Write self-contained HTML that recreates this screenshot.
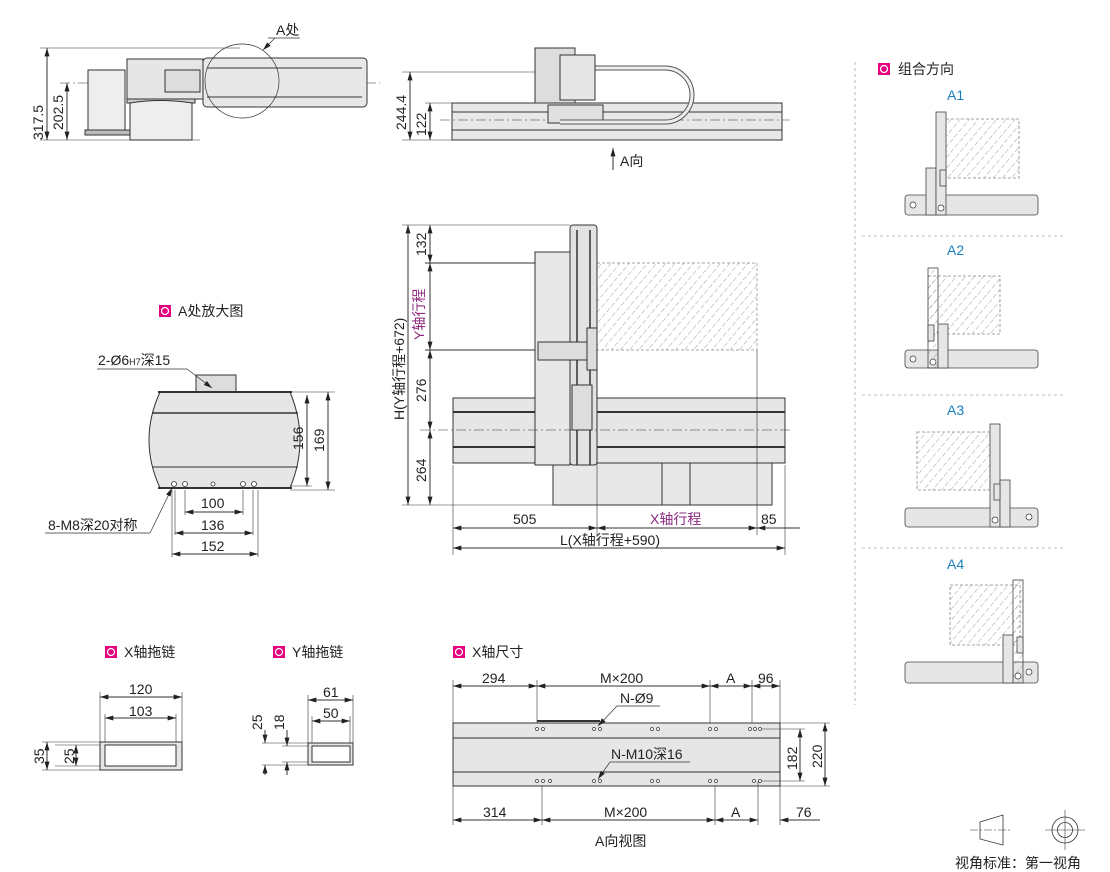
<!DOCTYPE html>
<html><head><meta charset="utf-8"><style>
html,body{margin:0;padding:0;background:#fff;}
svg{display:block;font-family:"Liberation Sans","Noto Sans CJK SC",sans-serif;}
</style></head><body>
<svg width="1110" height="872" viewBox="0 0 1110 872" xmlns="http://www.w3.org/2000/svg">
<defs>
<marker id="a" viewBox="0 0 10 6" refX="10" refY="3" markerWidth="9" markerHeight="5" orient="auto-start-reverse" markerUnits="userSpaceOnUse"><path d="M0,0L10,3L0,6z" fill="#222"/></marker>
<pattern id="h" width="7" height="7" patternUnits="userSpaceOnUse" patternTransform="rotate(40)"><line x1="0" y1="0" x2="0" y2="7" stroke="#888" stroke-width="0.8" stroke-dasharray="3,2"/></pattern>
</defs>
<g stroke="#333" stroke-width="1" fill="none">

<!-- TOP LEFT VIEW -->
<line x1="40" y1="48" x2="240" y2="48" stroke-width="0.6"/>
<line x1="40" y1="140" x2="200" y2="140" stroke-width="0.6"/>
<line x1="60" y1="83" x2="380" y2="83" stroke-dasharray="10,3,2,3" stroke-width="0.6"/>
<line x1="47" y1="48" x2="47" y2="140" marker-start="url(#a)" marker-end="url(#a)"/>
<line x1="67" y1="83" x2="67" y2="140" marker-start="url(#a)" marker-end="url(#a)"/>
<rect x="88" y="70" width="37" height="63" fill="#eee"/>
<rect x="85" y="130" width="45" height="5" fill="#bbb"/>
<rect x="127" y="59" width="76" height="40" fill="#e6e6e6"/>
<rect x="127" y="99" width="68" height="4" fill="#ccc"/>
<path d="M130 103 L130 140 L192 140 L192 103 Q160 98 130 103z" fill="#eee"/>
<rect x="165" y="70" width="35" height="22" fill="#ddd"/>
<rect x="203" y="58" width="164" height="49" rx="4" fill="#e8e8e8"/>
<line x1="207" y1="68" x2="362" y2="68"/><line x1="207" y1="97" x2="362" y2="97"/>
<circle cx="242" cy="81" r="37" stroke-width="0.7"/>
<line x1="268" y1="38" x2="300" y2="38" stroke-width="0.7"/>
<line x1="275" y1="38" x2="263" y2="50" marker-end="url(#a)" stroke-width="0.7"/>

<!-- TOP MIDDLE VIEW -->
<line x1="402" y1="72" x2="540" y2="72" stroke-width="0.6"/>
<line x1="402" y1="140" x2="452" y2="140" stroke-width="0.6"/>
<line x1="425" y1="103" x2="452" y2="103" stroke-width="0.6"/>
<line x1="410" y1="72" x2="410" y2="140" marker-start="url(#a)" marker-end="url(#a)"/>
<line x1="430" y1="103" x2="430" y2="140" marker-start="url(#a)" marker-end="url(#a)"/>
<rect x="452" y="103" width="330" height="37" fill="#e8e8e8"/>
<line x1="452" y1="112" x2="782" y2="112"/><line x1="452" y1="130" x2="782" y2="130"/>
<line x1="440" y1="120" x2="790" y2="120" stroke-dasharray="10,3,2,3" stroke-width="0.6"/>
<rect x="548" y="105" width="55" height="18" fill="#e0e0e0"/>
<path d="M592 68 L665 68 A27 27 0 0 1 665 122 L560 122" stroke-width="5" stroke="#555"/>
<path d="M592 68 L665 68 A27 27 0 0 1 665 122 L560 122" stroke-width="3" stroke="#eee"/>
<rect x="535" y="48" width="40" height="55" fill="#ddd"/>
<rect x="560" y="55" width="35" height="45" fill="#e6e6e6"/>
<line x1="613" y1="170" x2="613" y2="148" marker-end="url(#a)"/>

<!-- MAIN VIEW -->
<line x1="402" y1="225" x2="570" y2="225" stroke-width="0.6"/>
<line x1="425" y1="263" x2="597" y2="263"/>
<line x1="425" y1="350" x2="540" y2="350"/>
<line x1="402" y1="505" x2="553" y2="505" stroke-width="0.6"/>
<line x1="408" y1="225" x2="408" y2="505" marker-start="url(#a)" marker-end="url(#a)"/>
<line x1="430" y1="225" x2="430" y2="263" marker-start="url(#a)" marker-end="url(#a)"/>
<line x1="430" y1="263" x2="430" y2="350" marker-start="url(#a)" marker-end="url(#a)"/>
<line x1="430" y1="350" x2="430" y2="430" marker-start="url(#a)" marker-end="url(#a)"/>
<line x1="430" y1="430" x2="430" y2="505" marker-start="url(#a)" marker-end="url(#a)"/>
<rect x="597" y="263" width="160" height="87" fill="url(#h)" stroke="#888" stroke-dasharray="3,2" stroke-width="0.7"/>
<rect x="553" y="463" width="219" height="42" fill="#e8e8e8"/>
<line x1="662" y1="463" x2="662" y2="505"/><line x1="690" y1="463" x2="690" y2="505"/>
<rect x="453" y="398" width="332" height="65" fill="#e6e6e6"/>
<line x1="453" y1="412" x2="785" y2="412" stroke-width="2"/><line x1="453" y1="447" x2="785" y2="447" stroke-width="2"/>
<rect x="535" y="252" width="35" height="213" fill="#e8e8e8"/>
<rect x="570" y="225" width="27" height="240" rx="3" fill="#e2e2e2"/>
<line x1="577" y1="230" x2="577" y2="465" stroke-width="1.5"/><line x1="590" y1="230" x2="590" y2="465" stroke-width="1.5"/>
<rect x="538" y="342" width="55" height="18" fill="#ddd"/>
<rect x="587" y="328" width="10" height="42" fill="#ddd"/>
<rect x="572" y="385" width="20" height="45" fill="#ddd"/>
<line x1="420" y1="430" x2="790" y2="430" stroke-dasharray="10,3,2,3" stroke-width="0.6"/>
<line x1="453" y1="465" x2="453" y2="555" stroke-width="0.6"/>
<line x1="597" y1="350" x2="597" y2="535" stroke-width="0.6"/>
<line x1="757" y1="350" x2="757" y2="535" stroke-width="0.6"/>
<line x1="785" y1="465" x2="785" y2="555" stroke-width="0.6"/>
<line x1="453" y1="528" x2="597" y2="528" marker-start="url(#a)" marker-end="url(#a)"/>
<line x1="597" y1="528" x2="757" y2="528" marker-start="url(#a)" marker-end="url(#a)"/>
<line x1="757" y1="528" x2="800" y2="528" marker-start="url(#a)"/>
<line x1="453" y1="548" x2="785" y2="548" marker-start="url(#a)" marker-end="url(#a)"/>

<!-- A DETAIL -->
<path d="M160 392 L290 392 Q310 440 290 488 L160 488 Q138 440 160 392z" fill="#e6e6e6"/>
<line x1="152" y1="413" x2="298" y2="413" stroke-width="1.6"/>
<line x1="152" y1="467" x2="298" y2="467"/>
<rect x="196" y="375" width="40" height="17" fill="#ddd"/>
<line x1="158" y1="392" x2="292" y2="392" stroke-width="2"/>
<line x1="158" y1="488" x2="292" y2="488" stroke-width="2"/>
<g fill="#fff" stroke-width="0.8"><circle cx="174" cy="484" r="2.5"/><circle cx="185" cy="484" r="2.5"/><circle cx="213" cy="484" r="2"/><circle cx="243" cy="484" r="2.5"/><circle cx="254" cy="484" r="2.5"/></g>
<line x1="290" y1="392" x2="335" y2="392" stroke-width="0.6"/>
<line x1="290" y1="486" x2="312" y2="486" stroke-width="0.6"/>
<line x1="290" y1="490" x2="335" y2="490" stroke-width="0.6"/>
<line x1="307" y1="395" x2="307" y2="486" marker-start="url(#a)" marker-end="url(#a)"/>
<line x1="328" y1="392" x2="328" y2="490" marker-start="url(#a)" marker-end="url(#a)"/>
<line x1="172" y1="490" x2="172" y2="557" stroke-width="0.6"/>
<line x1="175" y1="490" x2="175" y2="535" stroke-width="0.6"/>
<line x1="185" y1="490" x2="185" y2="515" stroke-width="0.6"/>
<line x1="243" y1="490" x2="243" y2="515" stroke-width="0.6"/>
<line x1="253" y1="490" x2="253" y2="535" stroke-width="0.6"/>
<line x1="258" y1="490" x2="258" y2="557" stroke-width="0.6"/>
<line x1="185" y1="512" x2="243" y2="512" marker-start="url(#a)" marker-end="url(#a)"/>
<line x1="175" y1="533" x2="253" y2="533" marker-start="url(#a)" marker-end="url(#a)"/>
<line x1="172" y1="554" x2="258" y2="554" marker-start="url(#a)" marker-end="url(#a)"/>
<line x1="97" y1="369" x2="187" y2="369" stroke-width="0.7"/>
<line x1="187" y1="369" x2="212" y2="388" stroke-width="0.7" marker-end="url(#a)"/>
<line x1="45" y1="533" x2="150" y2="533" stroke-width="0.7"/>
<line x1="150" y1="533" x2="172" y2="488" stroke-width="0.7" marker-end="url(#a)"/>

<!-- X DRAG CHAIN -->
<rect x="100" y="742" width="82" height="28" fill="#e6e6e6"/>
<rect x="105" y="745" width="71" height="21" fill="#fff"/>
<line x1="100" y1="692" x2="100" y2="742" stroke-width="0.6"/><line x1="182" y1="692" x2="182" y2="742" stroke-width="0.6"/>
<line x1="105" y1="714" x2="105" y2="742" stroke-width="0.6"/><line x1="176" y1="714" x2="176" y2="742" stroke-width="0.6"/>
<line x1="100" y1="697" x2="182" y2="697" marker-start="url(#a)" marker-end="url(#a)"/>
<line x1="105" y1="718" x2="176" y2="718" marker-start="url(#a)" marker-end="url(#a)"/>
<line x1="42" y1="742" x2="100" y2="742" stroke-width="0.6"/><line x1="42" y1="770" x2="100" y2="770" stroke-width="0.6"/>
<line x1="55" y1="745" x2="100" y2="745" stroke-width="0.6"/><line x1="55" y1="766" x2="100" y2="766" stroke-width="0.6"/>
<line x1="47" y1="742" x2="47" y2="770" marker-start="url(#a)" marker-end="url(#a)"/>
<line x1="76" y1="745" x2="76" y2="766" marker-start="url(#a)" marker-end="url(#a)"/>

<!-- Y DRAG CHAIN -->
<rect x="308" y="743" width="45" height="22" fill="#e6e6e6"/>
<rect x="312" y="746" width="38" height="16" fill="#fff"/>
<line x1="308" y1="695" x2="308" y2="743" stroke-width="0.6"/><line x1="353" y1="695" x2="353" y2="743" stroke-width="0.6"/>
<line x1="312" y1="716" x2="312" y2="743" stroke-width="0.6"/><line x1="350" y1="716" x2="350" y2="743" stroke-width="0.6"/>
<line x1="308" y1="700" x2="353" y2="700" marker-start="url(#a)" marker-end="url(#a)"/>
<line x1="312" y1="721" x2="350" y2="721" marker-start="url(#a)" marker-end="url(#a)"/>
<line x1="262" y1="743" x2="308" y2="743" stroke-width="0.6"/><line x1="262" y1="765" x2="308" y2="765" stroke-width="0.6"/>
<line x1="282" y1="746" x2="308" y2="746" stroke-width="0.6"/><line x1="282" y1="762" x2="308" y2="762" stroke-width="0.6"/>
<line x1="265" y1="730" x2="265" y2="743" marker-end="url(#a)"/><line x1="265" y1="775" x2="265" y2="765" marker-end="url(#a)"/>
<line x1="287" y1="730" x2="287" y2="746" marker-end="url(#a)"/><line x1="287" y1="775" x2="287" y2="762" marker-end="url(#a)"/>

<!-- X AXIS SIZES -->
<rect x="453" y="723" width="327" height="63" fill="#e6e6e6"/>
<line x1="453" y1="738" x2="780" y2="738"/><line x1="453" y1="772" x2="780" y2="772"/>
<line x1="537" y1="721" x2="600" y2="721" stroke-width="2"/>
<g fill="#fff" stroke-width="0.7">
<circle cx="537" cy="729" r="1.5"/><circle cx="543" cy="729" r="1.5"/><circle cx="594" cy="729" r="1.5"/><circle cx="600" cy="729" r="1.5"/><circle cx="652" cy="729" r="1.5"/><circle cx="658" cy="729" r="1.5"/><circle cx="710" cy="729" r="1.5"/><circle cx="716" cy="729" r="1.5"/><circle cx="750" cy="729" r="1.5"/><circle cx="755" cy="729" r="1.5"/><circle cx="760" cy="729" r="1.5"/>
<circle cx="537" cy="781" r="1.5"/><circle cx="543" cy="781" r="1.5"/><circle cx="550" cy="781" r="1.5"/><circle cx="594" cy="781" r="1.5"/><circle cx="600" cy="781" r="1.5"/><circle cx="652" cy="781" r="1.5"/><circle cx="658" cy="781" r="1.5"/><circle cx="710" cy="781" r="1.5"/><circle cx="716" cy="781" r="1.5"/><circle cx="754" cy="781" r="1.5"/><circle cx="760" cy="781" r="1.5"/></g>
<g stroke-width="0.6">
<line x1="453" y1="680" x2="453" y2="723"/><line x1="537" y1="680" x2="537" y2="723"/><line x1="710" y1="680" x2="710" y2="723"/><line x1="752" y1="680" x2="752" y2="723"/><line x1="780" y1="680" x2="780" y2="723"/>
<line x1="453" y1="786" x2="453" y2="825"/><line x1="542" y1="786" x2="542" y2="825"/><line x1="715" y1="786" x2="715" y2="825"/><line x1="758" y1="781" x2="758" y2="825"/><line x1="780" y1="786" x2="780" y2="825"/>
<line x1="762" y1="729" x2="805" y2="729"/><line x1="762" y1="781" x2="805" y2="781"/><line x1="780" y1="723" x2="830" y2="723"/><line x1="780" y1="786" x2="830" y2="786"/>
</g>
<line x1="453" y1="686" x2="537" y2="686" marker-start="url(#a)" marker-end="url(#a)"/>
<line x1="537" y1="686" x2="710" y2="686" marker-start="url(#a)" marker-end="url(#a)"/>
<line x1="710" y1="686" x2="752" y2="686" marker-start="url(#a)" marker-end="url(#a)"/>
<line x1="752" y1="686" x2="780" y2="686" marker-start="url(#a)" marker-end="url(#a)"/>
<line x1="453" y1="820" x2="542" y2="820" marker-start="url(#a)" marker-end="url(#a)"/>
<line x1="542" y1="820" x2="715" y2="820" marker-start="url(#a)" marker-end="url(#a)"/>
<line x1="715" y1="820" x2="758" y2="820" marker-start="url(#a)" marker-end="url(#a)"/>
<line x1="780" y1="820" x2="820" y2="820" marker-start="url(#a)"/>
<line x1="800" y1="729" x2="800" y2="781" marker-start="url(#a)" marker-end="url(#a)"/>
<line x1="825" y1="723" x2="825" y2="786" marker-start="url(#a)" marker-end="url(#a)"/>
<line x1="617" y1="706" x2="660" y2="706" stroke-width="0.7"/><line x1="617" y1="706" x2="598" y2="726" stroke-width="0.7" marker-end="url(#a)"/>
<line x1="610" y1="762" x2="690" y2="762" stroke-width="0.7"/><line x1="610" y1="762" x2="598" y2="779" stroke-width="0.7" marker-end="url(#a)"/>

<!-- RIGHT PANEL -->
<g stroke="#aaa" stroke-dasharray="3,3" stroke-width="0.8">
<line x1="855" y1="62" x2="855" y2="705"/>
<line x1="862" y1="236" x2="1065" y2="236"/><line x1="862" y1="395" x2="1065" y2="395"/><line x1="862" y1="548" x2="1065" y2="548"/>
</g>
<g fill="#e6e6e6" stroke="#444" stroke-width="0.8">
<rect x="946" y="119" width="73" height="59" fill="url(#h)" stroke="#888" stroke-dasharray="3,2"/>
<rect x="905" y="195" width="133" height="20" rx="3"/>
<rect x="926" y="168" width="10" height="47"/>
<rect x="936" y="112" width="10" height="103"/>
<rect x="940" y="170" width="6" height="16"/>
<rect x="928" y="276" width="72" height="58" fill="url(#h)" stroke="#888" stroke-dasharray="3,2"/>
<rect x="905" y="350" width="133" height="18" rx="3"/>
<rect x="928" y="268" width="10" height="100" fill="url(#h)"/>
<rect x="938" y="324" width="10" height="44"/>
<rect x="928" y="325" width="6" height="16"/>
<rect x="917" y="432" width="73" height="58" fill="url(#h)" stroke="#888" stroke-dasharray="3,2"/>
<rect x="905" y="508" width="133" height="19" rx="3"/>
<rect x="990" y="424" width="10" height="103"/>
<rect x="1000" y="480" width="10" height="47"/>
<rect x="994" y="484" width="6" height="16"/>
<rect x="950" y="585" width="70" height="60" fill="url(#h)" stroke="#888" stroke-dasharray="3,2"/>
<rect x="905" y="662" width="133" height="21" rx="3"/>
<rect x="1013" y="580" width="10" height="103" fill="url(#h)"/>
<rect x="1003" y="635" width="10" height="48"/>
<rect x="1017" y="637" width="6" height="16"/>
</g>
<g fill="#fff" stroke-width="0.7">
<circle cx="913" cy="205" r="3"/><circle cx="941" cy="208" r="3"/>
<circle cx="913" cy="359" r="3"/><circle cx="933" cy="362" r="3"/>
<circle cx="995" cy="520" r="3"/><circle cx="1029" cy="517" r="3"/>
<circle cx="1018" cy="676" r="3"/><circle cx="1029" cy="672" r="3"/>
</g>

<path d="M980 822 L1003 815 L1003 845 L980 839z" stroke-width="0.8"/>
<line x1="970" y1="830" x2="1012" y2="830" stroke-dasharray="8,2,2,2" stroke-width="0.6"/>
<circle cx="1065" cy="830" r="13" stroke-width="0.8"/><circle cx="1065" cy="830" r="7.5" stroke-width="0.8"/>
<line x1="1045" y1="830" x2="1085" y2="830" stroke-width="0.6"/><line x1="1065" y1="810" x2="1065" y2="850" stroke-width="0.6"/>
</g>

<g fill="#e4007f">
<rect x="159" y="305" width="12" height="12"/><rect x="105" y="646" width="12" height="12"/><rect x="273" y="646" width="12" height="12"/><rect x="453" y="646" width="12" height="12"/><rect x="878" y="63" width="12" height="12"/>
</g>
<g fill="none" stroke="#fff" stroke-width="1.3">
<circle cx="165" cy="311" r="3.5"/><circle cx="111" cy="652" r="3.5"/><circle cx="279" cy="652" r="3.5"/><circle cx="459" cy="652" r="3.5"/><circle cx="884" cy="69" r="3.5"/>
</g>

<g fill="#222" font-size="14">
<text x="276" y="35">A处</text>
<text transform="translate(43,140) rotate(-90)">317.5</text>
<text transform="translate(63,130) rotate(-90)">202.5</text>
<text transform="translate(406,130) rotate(-90)">244.4</text>
<text transform="translate(426,136) rotate(-90)">122</text>
<text x="620" y="166">A向</text>
<text transform="translate(426,256) rotate(-90)">132</text>
<text transform="translate(426,402) rotate(-90)">276</text>
<text transform="translate(426,482) rotate(-90)">264</text>
<text transform="translate(404,420) rotate(-90)">H(Y轴行程+672)</text>
<text x="513" y="524">505</text>
<text x="761" y="524">85</text>
<text x="560" y="545">L(X轴行程+590)</text>
<text x="178" y="316">A处放大图</text>
<text x="98" y="365">2-Ø6<tspan font-size="9">H7</tspan>深15</text>
<text transform="translate(303,450) rotate(-90)">156</text>
<text transform="translate(324,452) rotate(-90)">169</text>
<text x="201" y="508">100</text>
<text x="201" y="530">136</text>
<text x="201" y="551">152</text>
<text x="48" y="530">8-M8深20对称</text>
<text x="124" y="657">X轴拖链</text>
<text x="292" y="657">Y轴拖链</text>
<text x="472" y="657">X轴尺寸</text>
<text x="129" y="694">120</text>
<text x="129" y="716">103</text>
<text transform="translate(44,764) rotate(-90)">35</text>
<text transform="translate(74,764) rotate(-90)">25</text>
<text x="323" y="697">61</text>
<text x="323" y="718">50</text>
<text transform="translate(262,730) rotate(-90)">25</text>
<text transform="translate(284,730) rotate(-90)">18</text>
<text x="482" y="683">294</text>
<text x="600" y="683">M×200</text>
<text x="726" y="683">A</text>
<text x="758" y="683">96</text>
<text x="620" y="703">N-Ø9</text>
<text x="611" y="759">N-M10深16</text>
<text x="483" y="817">314</text>
<text x="604" y="817">M×200</text>
<text x="731" y="817">A</text>
<text x="796" y="817">76</text>
<text transform="translate(797,770) rotate(-90)">182</text>
<text transform="translate(822,768) rotate(-90)">220</text>
<text x="595" y="846">A向视图</text>
<text x="898" y="74">组合方向</text>
<text x="955" y="868">视角标准：第一视角</text>
</g>
<g fill="#8b2a7f" font-size="14">
<text transform="translate(424,340) rotate(-90)">Y轴行程</text>
<text x="650" y="524">X轴行程</text>
</g>
<g fill="#1a7fc1" font-size="14">
<text x="947" y="100">A1</text><text x="947" y="255">A2</text><text x="947" y="415">A3</text><text x="947" y="569">A4</text>
</g>
</svg>
</body></html>
